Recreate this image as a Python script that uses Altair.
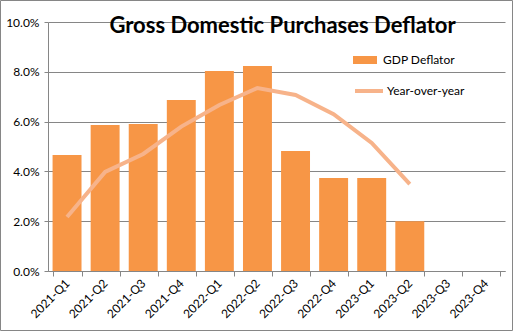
import altair as alt
import pandas as pd

quarters = ["2021-Q1", "2021-Q2", "2021-Q3", "2021-Q4",
            "2022-Q1", "2022-Q2", "2022-Q3", "2022-Q4",
            "2023-Q1", "2023-Q2", "2023-Q3", "2023-Q4"]
gdp_deflator = [4.66, 5.86, 5.9, 6.87, 8.03, 8.23, 4.82, 3.73, 3.73, 2.0, None, None]
yoy = [2.17, 3.98, 4.7, 5.8, 6.67, 7.35, 7.07, 6.3, 5.14, 3.49, None, None]
y_ticks = [0, 2, 4, 6, 8, 10]
title_text = "Gross Domestic Purchases Deflator"
bar_name = "GDP Deflator"
line_name = "Year-over-year"

FONT = "Lato"
GRAY = "#868686"
BAR_COLOR = "#F79646"
LINE_COLOR = "#F7B38A"

bars_df = pd.DataFrame({"quarter": quarters, "value": gdp_deflator, "series": bar_name})
line_df = pd.DataFrame({"quarter": quarters, "value": yoy, "series": line_name}).dropna()

x_enc = alt.X(
    "quarter:N",
    sort=quarters,
    scale=alt.Scale(domain=quarters, paddingInner=0.24, paddingOuter=0.12),
    axis=alt.Axis(
        title=None, labelAngle=-45, labelAlign="right", labelBaseline="middle",
        labelPadding=5, tickBand="extent", tickSize=5, tickColor=GRAY,
        domainColor=GRAY, grid=False, labelFont=FONT, labelFontSize=12,
        labelColor="#000000",
    ),
)
y_scale = alt.Scale(domain=[0, 10], nice=False)

bars = alt.Chart(bars_df).mark_bar().encode(
    x=x_enc,
    y=alt.Y(
        "value:Q", scale=y_scale,
        axis=alt.Axis(
            title=None, values=y_ticks, labelExpr="format(datum.value, '.1f') + '%'",
            grid=True, gridColor=GRAY, domainColor=GRAY, tickColor=GRAY, tickSize=4,
            labelPadding=5, labelFont=FONT, labelFontSize=12, labelColor="#000000",
        ),
    ),
    fill=alt.Fill(
        "series:N",
        scale=alt.Scale(domain=[bar_name], range=[BAR_COLOR]),
        legend=alt.Legend(
            title=None, orient="none", legendX=305, legendY=26, padding=0,
            symbolType="M-1,-0.333H1V0.333H-1Z", symbolSize=576, symbolStrokeWidth=0,
            symbolOpacity=1, labelOffset=6, labelFont=FONT, labelFontSize=12,
            labelColor="#000000",
        ),
    ),
)

line = alt.Chart(line_df).mark_line(strokeWidth=4).encode(
    x=alt.X("quarter:N", sort=quarters),
    y=alt.Y("value:Q", scale=y_scale),
    stroke=alt.Stroke(
        "series:N",
        scale=alt.Scale(domain=[line_name], range=[LINE_COLOR]),
        legend=alt.Legend(
            title=None, orient="none", legendX=305, legendY=53, padding=0,
            symbolType="stroke", symbolSize=784, symbolStrokeWidth=4,
            labelOffset=2, labelFont=FONT, labelFontSize=12, labelColor="#000000",
        ),
    ),
)

title = alt.Chart(pd.DataFrame({"t": [title_text]})).mark_text(
    font=FONT, fontSize=22, fontWeight="bold", align="center",
    baseline="alphabetic", color="#000000",
).encode(text="t:N", x=alt.value(234.5), y=alt.value(11))

border = alt.Chart(pd.DataFrame({"t": [0]})).mark_rect(
    fill=None, stroke=GRAY, strokeWidth=1
).encode(x=alt.value(-47.5), x2=alt.value(464.5), y=alt.value(-21.5), y2=alt.value(308.5))

chart = alt.layer(bars, line, title, border).resolve_scale(
    fill="independent", stroke="independent"
).properties(
    width=457, height=249,
    autosize=alt.AutoSizeParams(type="none"),
    padding={"left": 48, "top": 22, "right": 9, "bottom": 60},
    background="#ffffff",
).configure_view(stroke=None)

chart.save("out.html", embed_options={"renderer": "svg", "actions": False})
